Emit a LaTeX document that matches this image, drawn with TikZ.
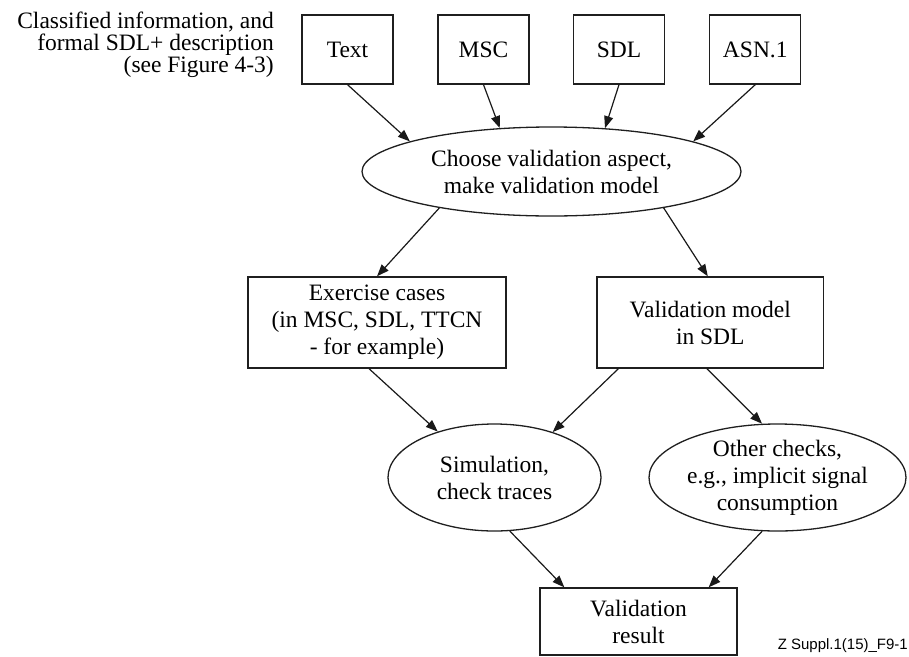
\documentclass[tikz,border=0pt]{standalone}
\usepackage{fontspec}
\setmainfont{Liberation Serif}
\newfontfamily\labelfont{Liberation Sans}
\usetikzlibrary{shapes.geometric,arrows.meta}

\tikzset{
  box/.style={draw=black!88, line width=1.3pt, rectangle, inner sep=0pt,
    align=center, font=\fontsize{23.5}{27}\selectfont},
  oval/.style={draw=black!88, line width=1.3pt, ellipse, inner xsep=-25pt,
    inner ysep=0pt, align=center, font=\fontsize{23.5}{27}\selectfont},
  flow/.style={line width=1.2pt, draw=black!90,
    -{Triangle[length=12pt,width=9pt]}},
}

\begin{document}
\begin{tikzpicture}[x=1pt,y=-1pt]
\useasboundingbox (0,0) rectangle (909,656);

% side note
\node[anchor=north east, inner sep=0pt, align=right,
      font=\fontsize{23.5}{22.3}\selectfont] (note) at (274,11.5)
  {Classified information, and\\formal SDL+ description\\(see Figure 4-3)};

% input descriptions
\node[box, minimum width=91pt, minimum height=69pt] (text) at (347.5,49.5) {Text};
\node[box, minimum width=91pt, minimum height=69pt] (msc)  at (483.5,49.5) {MSC};
\node[box, minimum width=91pt, minimum height=69pt] (sdl)  at (619,49.5)   {SDL};
\node[box, minimum width=91pt, minimum height=69pt] (asn)  at (755.3,49.5) {ASN.1};

% modelling step
\node[oval, minimum width=379pt, minimum height=89pt] (choose) at (551.5,171.5)
  {Choose validation aspect,\\make validation model};

% artefacts
\node[box, minimum width=258pt, minimum height=91pt] (exer) at (377,322.5)
  {Exercise cases\\(in MSC, SDL, TTCN\\- for example)};
\node[box, minimum width=226.5pt, minimum height=91pt] (vmod) at (710.3,322.5)
  {Validation model\\in SDL};

% checks
\node[oval, minimum width=213pt, minimum height=107pt] (sim) at (494.5,477.5)
  {Simulation,\\check traces};
\node[oval, minimum width=257pt, minimum height=107pt] (other) at (777.5,477.5)
  {Other checks,\\e.g., implicit signal\\consumption};

% outcome
\node[box, minimum width=197pt, minimum height=67pt] (res) at (638.5,621.5)
  {Validation\\result};

\node[anchor=base east, inner sep=0pt, font=\labelfont\fontsize{15}{18}\selectfont]
  (fig) at (908,649) {Z Suppl.1(15)\_F9-1};

% connectors
\draw[flow] (text.south) -- (choose.168.1);
\draw[flow] (msc.south)  -- (choose.140.7);
\draw[flow] (sdl.south)  -- (choose.39.8);
\draw[flow] (asn.south)  -- (choose.12);

\draw[flow] (choose.198.2) -- (exer.north);
\draw[flow] (choose.342.9) -- ([xshift=-2.5pt]vmod.north);

\draw[flow] ([xshift=-8pt]exer.south) -- (sim.141);
\draw[flow] ([xshift=22pt]vmod.south west) -- (sim.38.5);
\draw[flow] ([xshift=-3.5pt]vmod.south) -- (other.106.2);

\draw[flow] (sim.286.2) -- ([xshift=25pt]res.north west);
\draw[flow] (other.254.8) -- ([xshift=-29pt]res.north east);
\end{tikzpicture}
\end{document}
